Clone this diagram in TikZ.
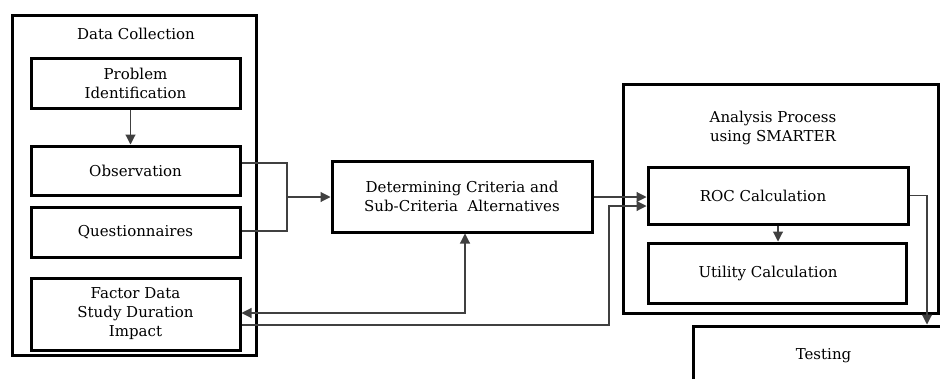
\documentclass[tikz,border=0pt]{standalone}
\usepackage{fontspec}
\setmainfont{DejaVu Serif}
\usetikzlibrary{arrows.meta}
\tikzset{
  box/.style={draw=black, line width=3pt, inner sep=0pt, align=center, font=\fontsize{15}{19}\selectfont},
  title/.style={inner sep=0pt, align=center, font=\fontsize{15}{19}\selectfont},
  conn/.style={draw=black!75, line width=1.1pt, -{Triangle[length=10pt,width=10pt]}},
  plain/.style={draw=black!75, line width=1.1pt},
}
\begin{document}
\begin{tikzpicture}[x=1pt,y=-1pt]
\useasboundingbox (0,0) rectangle (940,378);
\clip (0,0) rectangle (940,378);
% Data collection group
\node[box, minimum width=244pt, minimum height=340pt] (dc) at (134,185) {};
\node[title] (dct) at (136,34) {Data Collection};
\node[box, minimum width=209pt, minimum height=50pt] (pi) at (135.5,83) {Problem\\Identification};
\node[box, minimum width=209pt, minimum height=49pt] (obs) at (135.5,170.5) {Observation};
\node[box, minimum width=209pt, minimum height=50pt] (que) at (135.5,232) {Questionnaires};
\node[box, minimum width=209pt, minimum height=72pt] (fac) at (135.5,314) {Factor Data\\Study Duration\\Impact};
% Determining
\node[box, minimum width=260pt, minimum height=71pt] (det) at (462,196.5) {Determining Criteria and\\Sub-Criteria\ \ Alternatives};
% Analysis group
\node[box, minimum width=315pt, minimum height=229pt] (ap) at (780.5,198.5) {};
\node[title] (apt) at (773,128) {Analysis Process\\using SMARTER};
\node[box, minimum width=260pt, minimum height=57pt] (roc) at (778,195.5) {ROC Calculation\hspace{30pt}};
\node[box, minimum width=258pt, minimum height=60pt] (util) at (777,273) {Utility Calculation\hspace{18pt}};
\node[box, minimum width=267pt, minimum height=60pt] (test) at (826.5,356) {Testing\hspace{6pt}};
% connectors
\draw[conn] ([xshift=-5pt]pi.south) -- ([xshift=-5pt]pi.south |- obs.north);
\coordinate (j) at (287,197);
\draw[plain] ([yshift=7.5pt]obs.east) -| (j);
\draw[plain] ([yshift=1pt]que.east) -| (j);
\draw[conn] (j) -- (j -| det.west);
\draw[conn] ([yshift=-0.5pt]det.east) -- ([yshift=-0.5pt]det.east -| roc.west);
\draw[conn] ([yshift=-11pt]fac.east) -| (609,206) -- (roc.west |- 609,206);
\draw[conn, {Triangle[length=10pt,width=10pt]}-{Triangle[length=10pt,width=10pt]}] ([yshift=1pt]fac.east) -| ([xshift=3pt]det.south);
\draw[conn] (roc.south) -- (roc.south |- util.north);
\draw[conn] (roc.east) -| ([xshift=100.5pt]test.north);
\end{tikzpicture}
\end{document}
